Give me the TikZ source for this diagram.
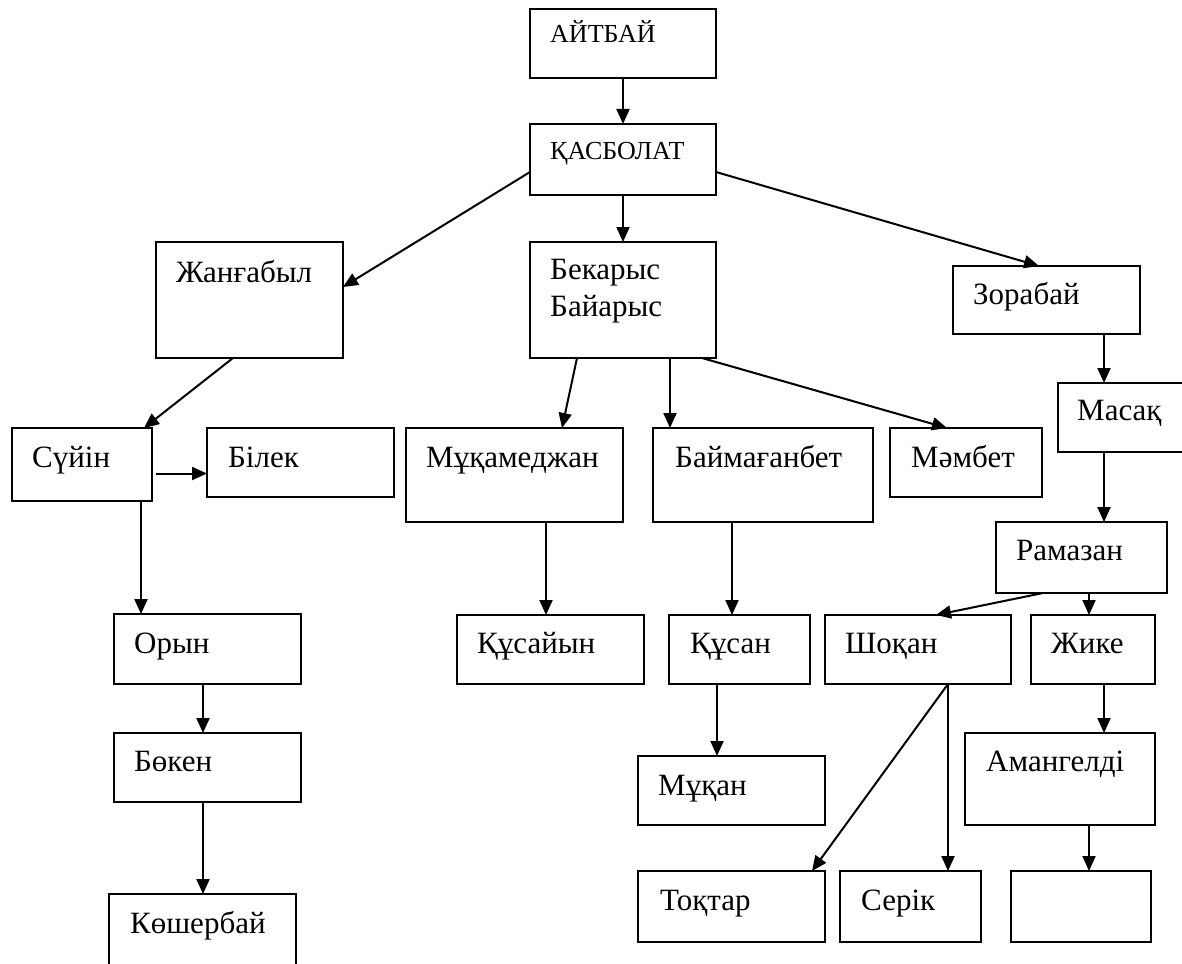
\documentclass[tikz,border=0pt]{standalone}
\usepackage{fontspec}
\setmainfont{Liberation Serif}
\usetikzlibrary{arrows.meta,calc}
\begin{document}
\begin{tikzpicture}[x=1pt,y=-1pt,
  box/.style={draw=black,line width=2pt,rectangle,inner sep=0pt,outer sep=0pt,anchor=north west},
  txt/.style={anchor=base west,inner sep=0pt,font=\fontsize{31}{36}\selectfont},
  captxt/.style={anchor=base west,inner sep=0pt,font=\fontsize{26}{30}\selectfont},
  arr/.style={line width=2pt,-{Triangle[length=15pt,width=13pt]}}]
\useasboundingbox (0,0) rectangle (1182,963);
\clip (0,0) rectangle (1182,963);
\newcommand{\bx}[5]{\node[box,minimum width=#4-#2,minimum height=#5-#3] (#1) at (#2,#3) {};}
% boxes: name, left, top, right, bottom
\bx{aitbai}{530}{9}{716}{78}
\bx{kasbolat}{530}{124}{716}{195}
\bx{bek}{530}{242}{716}{358}
\bx{zhan}{156}{242}{343}{358}
\bx{zor}{953}{266}{1140}{334}
\bx{masak}{1058}{383}{1200}{452}
\bx{suiin}{12}{428}{152}{501}
\bx{bilek}{207}{428}{394}{497}
\bx{mukam}{406}{428}{623}{522}
\bx{baim}{653}{428}{873}{522}
\bx{mambet}{890}{428}{1042}{497}
\bx{ramazan}{996}{522}{1167}{593}
\bx{kusaiyn}{457}{615}{644}{684}
\bx{kusan}{669}{615}{810}{684}
\bx{shokan}{825}{615}{1011}{684}
\bx{zhike}{1031}{615}{1155}{684}
\bx{oryn}{114}{614}{301}{684}
\bx{boken}{114}{733}{301}{802}
\bx{kosher}{109}{894}{296}{975}
\bx{mukan}{638}{756}{825}{825}
\bx{amangeldi}{965}{733}{1155}{825}
\bx{toktar}{638}{871}{825}{942}
\bx{serik}{840}{871}{981}{942}
\bx{empty}{1011}{871}{1151}{942}
% texts
\node[captxt] (aitbai-t) at ($(aitbai.north west)+(20,34)$) {АЙТБАЙ};
\node[captxt] (kasbolat-t) at ($(kasbolat.north west)+(20,35)$) {ҚАСБОЛАТ};
\node[txt] (bek-t1) at ($(bek.north west)+(20,37)$) {Бекарыс};
\node[txt] (bek-t2) at ($(bek.north west)+(20,74)$) {Байарыс};
\node[txt] (zhan-t) at ($(zhan.north west)+(20,40)$) {Жанғабыл};
\node[txt] (zor-t) at ($(zor.north west)+(20,38)$) {Зорабай};
\node[txt] (masak-t) at ($(masak.north west)+(19,37)$) {Масақ};
\node[txt] (suiin-t) at ($(suiin.north west)+(20,39)$) {Сүйін};
\node[txt] (bilek-t) at ($(bilek.north west)+(21,39)$) {Білек};
\node[txt] (mukam-t) at ($(mukam.north west)+(20,39)$) {Мұқамеджан};
\node[txt] (baim-t) at ($(baim.north west)+(22,39)$) {Баймағанбет};
\node[txt] (mambet-t) at ($(mambet.north west)+(21,39)$) {Мәмбет};
\node[txt] (ramazan-t) at ($(ramazan.north west)+(20,38)$) {Рамазан};
\node[txt] (kusaiyn-t) at ($(kusaiyn.north west)+(20,38)$) {Құсайын};
\node[txt] (kusan-t) at ($(kusan.north west)+(21,38)$) {Құсан};
\node[txt] (shokan-t) at ($(shokan.north west)+(20,38)$) {Шоқан};
\node[txt] (zhike-t) at ($(zhike.north west)+(20,38)$) {Жике};
\node[txt] (oryn-t) at ($(oryn.north west)+(20,39)$) {Орын};
\node[txt] (boken-t) at ($(boken.north west)+(20,38)$) {Бөкен};
\node[txt] (kosher-t) at ($(kosher.north west)+(21,39)$) {Көшербай};
\node[txt] (mukan-t) at ($(mukan.north west)+(20,39)$) {Мұқан};
\node[txt] (amangeldi-t) at ($(amangeldi.north west)+(21,38)$) {Амангелді};
\node[txt] (toktar-t) at ($(toktar.north west)+(22,39)$) {Тоқтар};
\node[txt] (serik-t) at ($(serik.north west)+(21,39)$) {Серік};
% connectors
\draw[arr] (aitbai.south) -- (kasbolat.north);
\draw[arr] (kasbolat.south) -- (bek.north);
\draw[arr] ($(kasbolat.north west)+(0,48)$) -- ($(zhan.north east)+(0,45)$);
\draw[arr] ($(kasbolat.north east)+(0,48)$) -- ($(zor.north west)+(86,0)$);
\draw[arr] ($(zhan.south west)+(77,0)$) -- ($(suiin.north west)+(132,0)$);
\draw[arr] ($(bek.south west)+(47,0)$) -- ($(mukam.north west)+(156,0)$);
\draw[arr] ($(bek.south west)+(140,0)$) -- ($(baim.north west)+(17,0)$);
\draw[arr] ($(bek.south west)+(172,0)$) -- ($(mambet.north west)+(57,0)$);
\draw[arr] ($(suiin.east)+(4,9)$) -- ($(bilek.west)+(0,11)$);
\draw[arr] ($(suiin.south west)+(129,0)$) -- ($(oryn.north west)+(27,0)$);
\draw[arr] ($(zor.south west)+(151,0)$) -- ($(masak.north west)+(46,0)$);
\draw[arr] ($(masak.south west)+(46,0)$) -- ($(ramazan.north west)+(108,0)$);
\draw[arr] ($(mukam.south west)+(140,0)$) -- ($(kusaiyn.north west)+(89,0)$);
\draw[arr] ($(baim.south west)+(79,0)$) -- ($(kusan.north west)+(63,0)$);
\draw[arr] ($(ramazan.south west)+(47,0)$) -- ($(shokan.north west)+(111,0)$);
\draw[arr] ($(ramazan.south west)+(93,0)$) -- ($(zhike.north west)+(58,0)$);
\draw[arr] ($(kusan.south west)+(48,0)$) -- ($(mukan.north west)+(79,0)$);
\draw[arr] ($(shokan.south west)+(123,0)$) -- ($(toktar.north west)+(174,0)$);
\draw[arr] ($(shokan.south west)+(123,0)$) -- ($(serik.north west)+(108,0)$);
\draw[arr] ($(zhike.south west)+(73,0)$) -- ($(amangeldi.north west)+(139,0)$);
\draw[arr] ($(amangeldi.south west)+(124,0)$) -- ($(empty.north west)+(78,0)$);
\draw[arr] ($(oryn.south west)+(89,0)$) -- ($(boken.north west)+(89,0)$);
\draw[arr] ($(boken.south west)+(89,0)$) -- ($(kosher.north west)+(94,0)$);
\end{tikzpicture}
\end{document}
